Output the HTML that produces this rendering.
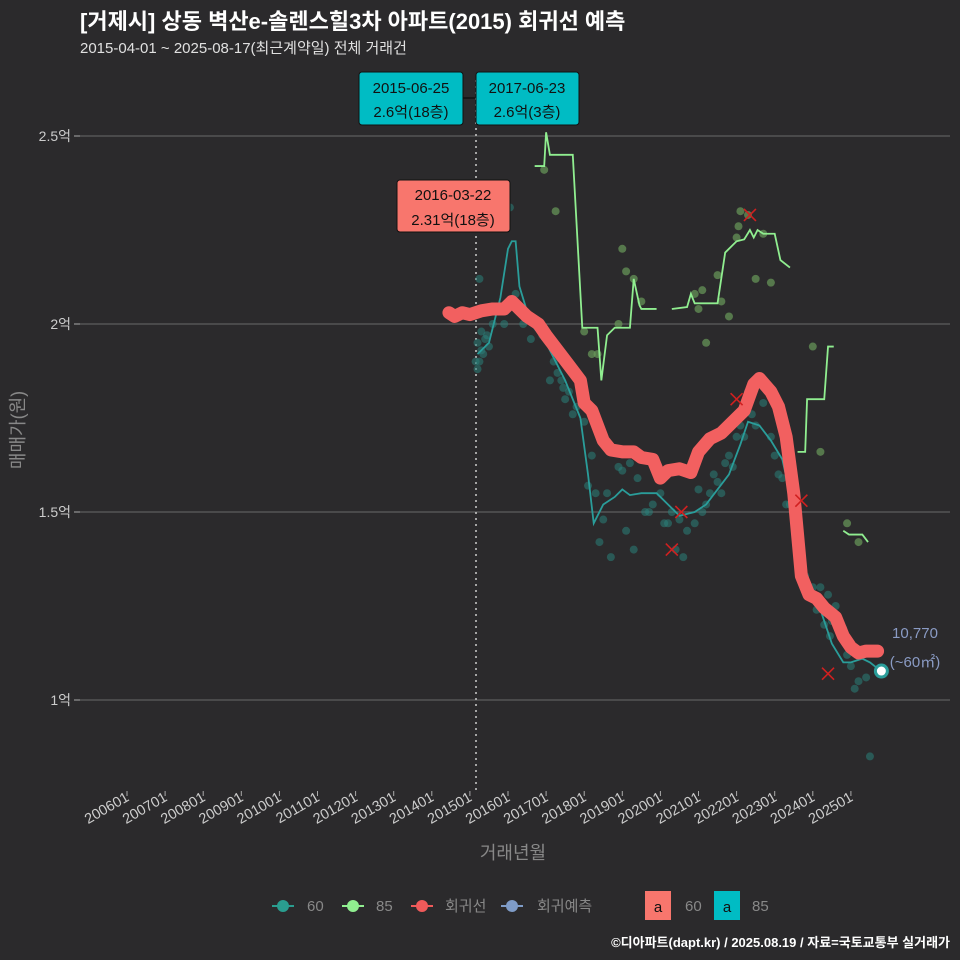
<!DOCTYPE html>
<html><head><meta charset="utf-8"><style>
html,body{margin:0;padding:0;background:#2b2a2c;}
svg{display:block;font-family:"Liberation Sans","Noto Sans CJK KR",sans-serif;}
</style></head><body>
<svg id="chart" width="960" height="960" viewBox="0 0 960 960" xmlns="http://www.w3.org/2000/svg">
<rect width="960" height="960" fill="#2b2a2c"/>
<text x="80" y="29" fill="#ffffff" font-size="22" font-weight="bold">[거제시] 상동 벽산e-솔렌스힐3차 아파트(2015) 회귀선 예측</text>
<text x="80" y="53" fill="#e0e0e0" font-size="15">2015-04-01 ~ 2025-08-17(최근계약일) 전체 거래건</text>
<g id="grid"></g>
<g id="ylabels"></g>
<g id="xlabels"></g>
<line x1="476" y1="80" x2="476" y2="790" stroke="#cccccc" stroke-width="1.5" stroke-dasharray="2,4"/>
<g id="marks"></g>
<text x="24" y="430" fill="#888888" font-size="18" transform="rotate(-90 24 430)" text-anchor="middle">매매가(원)</text>
<text x="513" y="859" fill="#888888" font-size="18" text-anchor="middle">거래년월</text>
<g>
<rect x="359" y="72" width="104" height="53" rx="3" fill="#00bcc4" stroke="#111" stroke-width="1"/>
<text x="411" y="93" font-size="15" text-anchor="middle" fill="#111">2015-06-25</text>
<text x="411" y="117" font-size="15" text-anchor="middle" fill="#111">2.6억(18층)</text></g>
<line x1="463" y1="98" x2="475" y2="98" stroke="#111" stroke-width="1.5"/>
<g>
<rect x="476" y="72" width="103" height="53" rx="3" fill="#00bcc4" stroke="#111" stroke-width="1"/>
<text x="527" y="93" font-size="15" text-anchor="middle" fill="#111">2017-06-23</text>
<text x="527" y="117" font-size="15" text-anchor="middle" fill="#111">2.6억(3층)</text></g>
<g>
<rect x="397" y="180" width="113" height="52" rx="3" fill="#f8766d" stroke="#111" stroke-width="1"/>
<text x="453" y="200" font-size="15" text-anchor="middle" fill="#111">2016-03-22</text>
<text x="453" y="225" font-size="15" text-anchor="middle" fill="#111">2.31억(18층)</text></g>
<text x="915" y="638" font-size="15" fill="#8a9bc4" text-anchor="middle">10,770</text>
<text x="915" y="667" font-size="15" fill="#8a9bc4" text-anchor="middle">(~60㎡)</text>
<g font-size="15" fill="#888888">
<g><line x1="272" y1="906" x2="294" y2="906" stroke="#2a9d8f" stroke-width="2"/><circle cx="283" cy="906" r="6" fill="#2a9d8f"/><text x="307" y="911">60</text></g>
<g><line x1="342" y1="906" x2="364" y2="906" stroke="#90ee90" stroke-width="2"/><circle cx="353" cy="906" r="6" fill="#90ee90"/><text x="376" y="911">85</text></g>
<g><line x1="411" y1="906" x2="433" y2="906" stroke="#f05a5a" stroke-width="2"/><circle cx="422" cy="906" r="6" fill="#f05a5a"/><text x="445" y="911">회귀선</text></g>
<g><line x1="501" y1="906" x2="523" y2="906" stroke="#7f9cc8" stroke-width="2"/><circle cx="512" cy="906" r="6" fill="#7f9cc8"/><text x="537" y="911">회귀예측</text></g>
<g><rect x="645" y="891" width="26" height="29" fill="#f8766d"/><text x="658" y="912" fill="#111" text-anchor="middle">a</text><text x="685" y="911">60</text></g>
<g><rect x="714" y="891" width="26" height="29" fill="#00bcc4"/><text x="727" y="912" fill="#111" text-anchor="middle">a</text><text x="752" y="911">85</text></g>
</g>
<text x="950" y="947" font-size="13" font-weight="bold" fill="#ffffff" text-anchor="end">©디아파트(dapt.kr) / 2025.08.19 / 자료=국토교통부 실거래가</text>
</svg>
<script>
const yTicks=[1,1.5,2,2.5];
const yTickLabels=["1억","1.5억","2억","2.5억"];
const xTickYears=[2006,2007,2008,2009,2010,2011,2012,2013,2014,2015,2016,2017,2018,2019,2020,2021,2022,2023,2024,2025];
const xTickLabels=["200601","200701","200801","200901","201001","201101","201201","201301","201401","201501","201601","201701","201801","201901","202001","202101","202201","202301","202401","202501"];
const regT=[2014.45,2014.6,2014.8,2015.0,2015.3,2015.6,2015.9,2016.1,2016.3,2016.5,2016.8,2017.0,2017.3,2017.6,2017.9,2018.0,2018.2,2018.5,2018.7,2019.0,2019.3,2019.5,2019.8,2020.0,2020.2,2020.5,2020.8,2021.0,2021.3,2021.6,2021.9,2022.2,2022.45,2022.6,2022.9,2023.1,2023.3,2023.5,2023.7,2023.9,2024.1,2024.3,2024.6,2024.8,2025.0,2025.2,2025.4,2025.7];
const regV=[2.03,2.02,2.03,2.025,2.035,2.04,2.04,2.06,2.04,2.02,2.0,1.97,1.93,1.89,1.85,1.79,1.77,1.69,1.665,1.66,1.66,1.645,1.64,1.59,1.61,1.615,1.605,1.66,1.695,1.71,1.74,1.77,1.84,1.855,1.82,1.78,1.7,1.55,1.33,1.28,1.27,1.245,1.22,1.17,1.14,1.125,1.13,1.13];
const s60T=[2015.2,2015.5,2015.8,2016.0,2016.1,2016.2,2016.3,2016.6,2017.0,2017.5,2017.9,2018.1,2018.25,2018.5,2018.8,2019.0,2019.2,2019.5,2019.9,2020.2,2020.5,2020.9,2021.2,2021.5,2021.8,2022.1,2022.3,2022.6,2022.9,2023.2,2023.4,2023.55,2023.7,2023.9,2024.2,2024.5,2024.8,2025.0,2025.3,2025.5,2025.75];
const s60V=[1.92,1.95,2.07,2.2,2.22,2.22,2.1,2.0,1.95,1.85,1.75,1.6,1.47,1.52,1.54,1.56,1.545,1.55,1.55,1.52,1.49,1.5,1.52,1.56,1.6,1.68,1.74,1.73,1.69,1.64,1.55,1.37,1.41,1.3,1.24,1.15,1.1,1.1,1.11,1.1,1.08];
const s85Seg=[
 [[2016.7,2.42],[2016.95,2.42],[2017.0,2.51],[2017.1,2.45],[2017.35,2.45],[2017.45,2.45],[2017.7,2.45],[2017.95,1.99],[2018.35,1.99],[2018.45,1.85],[2018.6,1.97],[2018.8,1.99],[2019.2,1.99],[2019.3,2.12],[2019.45,2.05],[2019.5,2.04],[2019.9,2.04]],
 [[2020.3,2.04],[2020.7,2.045],[2020.8,2.08],[2020.9,2.055],[2021.5,2.055],[2021.7,2.19],[2021.9,2.21],[2022.0,2.22],[2022.2,2.225],[2022.35,2.25],[2022.45,2.23],[2022.55,2.25],[2022.7,2.24],[2023.0,2.24],[2023.15,2.17],[2023.4,2.15]],
 [[2023.6,1.66],[2023.8,1.66],[2023.85,1.8],[2024.3,1.8],[2024.4,1.94],[2024.55,1.94]],
 [[2024.8,1.45],[2024.95,1.44],[2025.3,1.44],[2025.45,1.42]]
];
const p60T=[2015.2,2015.25,2015.3,2015.2,2015.35,2015.4,2015.5,2015.3,2015.25,2015.6,2015.9,2016.05,2016.2,2016.4,2016.6,2016.9,2017.1,2017.3,2017.4,2017.6,2017.5,2017.8,2018.0,2018.1,2018.3,2018.5,2018.6,2018.9,2019.0,2019.2,2019.4,2019.6,2019.8,2020.0,2020.2,2020.3,2020.5,2020.7,2020.9,2021.0,2021.1,2021.3,2021.4,2021.5,2021.7,2021.8,2022.0,2022.1,2022.3,2022.5,2022.7,2022.9,2023.0,2023.2,2023.4,2023.6,2023.8,2024.0,2024.2,2024.4,2024.5,2024.6,2024.7,2024.8,2024.9,2025.0,2025.1,2025.2,2025.4,2025.5,2017.2,2017.45,2017.7,2018.2,2018.4,2018.7,2019.1,2019.3,2019.7,2020.1,2020.4,2020.6,2021.2,2021.6,2021.9,2022.2,2022.4,2023.1,2023.3,2024.1,2024.3,2024.45,2025.3,2015.45,2015.15];
const p60V=[1.95,1.9,1.93,1.88,1.92,1.96,1.94,1.98,2.12,2.0,2.0,2.31,2.08,2.0,1.96,1.97,1.85,1.87,1.85,1.82,1.8,1.78,1.74,1.57,1.55,1.48,1.55,1.62,1.61,1.63,1.59,1.5,1.52,1.55,1.47,1.5,1.48,1.45,1.47,1.56,1.5,1.55,1.6,1.58,1.63,1.65,1.7,1.73,1.82,1.73,1.79,1.7,1.65,1.59,1.52,1.44,1.33,1.3,1.3,1.28,1.21,1.25,1.2,1.19,1.12,1.09,1.03,1.05,1.06,0.85,1.9,1.83,1.76,1.65,1.42,1.38,1.45,1.4,1.5,1.47,1.4,1.38,1.52,1.55,1.62,1.7,1.76,1.6,1.52,1.24,1.2,1.17,1.12,1.97,1.9];
const p85T=[2016.95,2017.25,2018.0,2018.2,2018.35,2018.9,2019.0,2019.1,2019.3,2019.5,2020.9,2021.0,2021.1,2021.2,2021.5,2021.6,2021.8,2022.0,2022.05,2022.1,2022.3,2022.5,2022.7,2022.9,2024.0,2024.2,2024.9,2025.2];
const p85V=[2.41,2.30,1.98,1.92,1.92,2.0,2.20,2.14,2.12,2.06,2.08,2.04,2.09,1.95,2.13,2.06,2.02,2.23,2.26,2.3,2.29,2.12,2.24,2.11,1.94,1.66,1.47,1.42];
const xMarkT=[2020.3,2020.55,2022.35,2023.7,2024.4,2022.0];
const xMarkV=[1.4,1.5,2.29,1.53,1.07,1.8];
const lastT=2025.8, lastV=1.077;

const NS="http://www.w3.org/2000/svg";
const X=t=>127+(t-2006)*38.1;
const Y=v=>700-(v-1)*376;
function mk(tag,attrs,parent){const e=document.createElementNS(NS,tag);for(const k in attrs)e.setAttribute(k,attrs[k]);parent.appendChild(e);return e;}
const grid=document.getElementById('grid'),yl=document.getElementById('ylabels'),xl=document.getElementById('xlabels'),marks=document.getElementById('marks');
yTicks.forEach((v,i)=>{
 const l=mk('line',{x1:80,x2:950,y1:Y(v),y2:Y(v),stroke:'#5e5e5e','stroke-width':1.2},grid);
 
 
 const tk=mk('line',{x1:74,x2:80,y1:Y(v),y2:Y(v),stroke:'#aaa'},yl);
 
 
 const t=mk('text',{x:71,y:Y(v)+5,'text-anchor':'end',fill:'#cccccc','font-size':14},yl);
 t.textContent=yTickLabels[i];
 
 
});
xTickYears.forEach((yr,i)=>{
 const x=X(yr);
 const tk=mk('line',{x1:x,x2:x,y1:791,y2:796,stroke:'#aaa'},xl);
 
 
 const t=mk('text',{x:x+3,y:800,'text-anchor':'end',fill:'#cccccc','font-size':14.5,transform:`rotate(-30 ${x+3} 800)`},xl);
 t.textContent=xTickLabels[i];
 
 
});
p85T.forEach((t,i)=>{
 const c=mk('circle',{cx:X(t),cy:Y(p85V[i]),r:4,fill:'#6a9a5a','fill-opacity':0.7},marks);
 
 
});
p60T.forEach((t,i)=>{
 const c=mk('circle',{cx:X(t),cy:Y(p60V[i]),r:4,fill:'#2a7f7a','fill-opacity':0.55},marks);
 
 
});
s85Seg.forEach(seg=>{
 const p=mk('polyline',{points:seg.map(d=>X(d[0])+','+Y(d[1])).join(' '),fill:'none',stroke:'#90ee90','stroke-width':1.8},marks);
 
 
});
const l60=mk('polyline',{points:s60T.map((t,i)=>X(t)+','+Y(s60V[i])).join(' '),fill:'none',stroke:'#2a9d9a','stroke-width':1.8},marks);


const reg=mk('polyline',{points:regT.map((t,i)=>X(t)+','+Y(regV[i])).join(' '),fill:'none',stroke:'#f26060','stroke-width':13,'stroke-linejoin':'round','stroke-linecap':'round'},marks);


xMarkT.forEach((t,i)=>{
 const x=X(t),y=Y(xMarkV[i]);
 const g=mk('path',{d:`M${x-6},${y-6}L${x+6},${y+6}M${x+6},${y-6}L${x-6},${y+6}`,stroke:'#d02020','stroke-width':1.6},marks);
 
 
});
const lp=mk('circle',{cx:X(lastT),cy:Y(lastV),r:6,fill:'#ffffff',stroke:'#2a9d9a','stroke-width':3},marks);


</script>
</body></html>
